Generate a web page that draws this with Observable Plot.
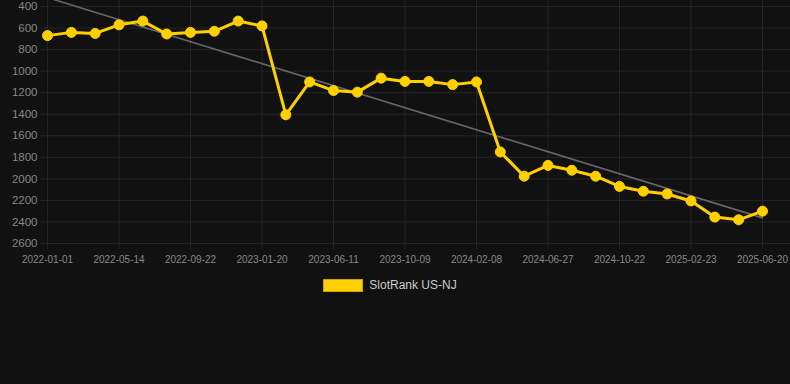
<!DOCTYPE html>
<html>
<head>
<meta charset="utf-8">
<script src="https://cdn.jsdelivr.net/npm/d3@7"></script>
<script src="https://cdn.jsdelivr.net/npm/@observablehq/plot@0.6"></script>
<style>
  html, body { margin: 0; padding: 0; background: #111111; }
  body { width: 790px; height: 384px; overflow: hidden; font-family: "Liberation Sans", Arial, sans-serif; }
  #legend { display: flex; justify-content: center; align-items: center; margin-top: 8px; padding-right: 10px; color: #cccccc; font-size: 12px; }
  #legend .sw { width: 38px; height: 11px; background: #ffd000; border: 1px solid #c9a400; margin-right: 6px; }
</style>
</head>
<body>
<div id="chart"></div>
<div id="legend"><span class="sw"></span><span>SlotRank US-NJ</span></div>
<script>
const seriesName = "SlotRank US-NJ";
const tickLabels = ["2022-01-01","2022-05-14","2022-09-22","2023-01-20","2023-06-11","2023-10-09","2024-02-08","2024-06-27","2024-10-22","2025-02-23","2025-06-20"];
const rankValues = [670,640,650,570,535,655,640,630,535,580,1405,1100,1180,1195,1065,1095,1095,1125,1100,1750,1975,1875,1920,1975,2070,2115,2140,2205,2355,2380,2300];
const yTicks = [400,600,800,1000,1200,1400,1600,1800,2000,2200,2400,2600];

const data = rankValues.map((v, i) => ({i, v}));
const tickIdx = tickLabels.map((_, k) => k * 3);
const gridColor = "#252525";
const yellow = "#ffd000";

const chart = Plot.plot({
  width: 790,
  height: 270,
  marginLeft: 40,
  marginRight: 0,
  marginTop: 0,
  marginBottom: 27,
  style: { background: "#111111", color: "#888888", fontFamily: "'Liberation Sans', Arial, sans-serif" },
  x: { domain: [-0.294, 31.175], axis: null, label: null },
  y: { domain: [344, 2600], reverse: true, axis: null, label: null },
  marks: [
    Plot.gridY(yTicks, { stroke: gridColor, strokeOpacity: 1 }),
    Plot.ruleX(tickIdx, { y1: 344, y2: 2600, stroke: gridColor, strokeOpacity: 1 }),
    Plot.axisX(tickIdx, { label: null, tickFormat: (d) => tickLabels[d / 3], tickSize: 6, stroke: gridColor, fill: "#888888", fontSize: 10, tickPadding: 6 }),
    Plot.axisY(yTicks, { label: null, tickFormat: (d) => String(d), tickSize: 0, tickPadding: 3, fill: "#888888", fontSize: 11.5, textAnchor: "end" }),
    Plot.linearRegressionY(data, { x: "i", y: "v", ci: 0, stroke: "#666666", strokeWidth: 1.6, clip: true }),
    Plot.line(data, { x: "i", y: "v", stroke: yellow, strokeWidth: 3, strokeLinejoin: "round" }),
    Plot.dot(data, { x: "i", y: "v", r: 5, fill: yellow, stroke: yellow, strokeWidth: 1 })
  ]
});
document.getElementById("chart").appendChild(chart);
</script>
</body>
</html>
